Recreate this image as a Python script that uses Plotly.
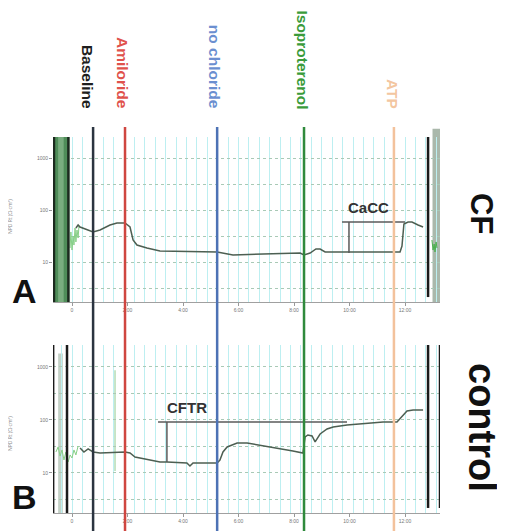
import numpy as np
import plotly.graph_objects as go

# ---------------- data ----------------
event_names = ["Baseline", "Amiloride", "no chloride", "Isoproterenol", "ATP"]
event_times = [0.76, 1.91, 5.23, 8.36, 11.60]          # minutes
event_colors = ["#2b3440", "#cf4640", "#4d72b5", "#2f8a3c", "#f3c29c"]
label_colors = ["#1e1e1e", "#e0524c", "#6b8fd0", "#3a9b3a", "#f3c6a0"]
label_shift = [-5, -2, -2, -2, -1]

# Panel A (CF)
cf_time = [0.14, 0.22, 0.29, 0.50, 0.76, 1.01, 1.37, 1.62, 1.91, 2.09, 2.20, 2.34, 2.70,
           3.17, 4.61, 5.23, 5.80, 6.77, 7.50, 8.22, 8.36, 8.58, 8.79, 8.94, 9.12, 9.66,
           10.74, 11.82, 11.89, 11.96, 12.11, 12.25, 12.47, 12.65]
cf_value = [45.1, 51.5, 47.1, 43.2, 37.8, 41.2, 51.5, 56.2, 56.2, 47.1, 26.5, 21.2, 18.6,
            16.3, 15.6, 15.6, 13.7, 14.3, 14.9, 14.9, 13.7, 14.9, 17.8, 17.8, 15.6, 15.6,
            15.6, 15.6, 20.3, 53.8, 58.8, 58.8, 51.5, 47.1]
cf_noise_time = [-0.07, -0.04, 0.0, 0.04, 0.07, 0.11, 0.14, 0.18, 0.22, 0.25, 0.29]
cf_noise_value = [18.6, 37.8, 17.0, 31.6, 21.2, 45.1, 24.3, 41.2, 29.0, 49.2, 45.1]
cf_end_time = [12.97, 13.01, 13.05, 13.08, 13.12, 13.15]
cf_end_value = [26.5, 17.0, 22.2, 15.6, 24.3, 18.6]

# Panel B (control)
ctrl_time = [0.29, 0.43, 0.58, 0.76, 1.01, 1.55, 1.91, 2.09, 2.27, 2.63, 3.17, 3.42, 3.89,
             4.14, 4.25, 4.36, 4.61, 5.23, 5.33, 5.44, 5.59, 5.95, 6.31, 6.77, 7.39, 7.96,
             8.32, 8.40, 8.50, 8.65, 8.76, 8.94, 9.19, 9.41, 9.91, 10.63, 11.21, 11.71,
             11.89, 12.07, 12.29, 12.65]
ctrl_value = [29.6, 24.9, 28.4, 24.9, 23.8, 24.9, 24.9, 23.8, 20.0, 18.4, 16.1, 16.1, 15.5,
              15.5, 13.6, 15.5, 15.5, 15.5, 17.6, 24.9, 31.0, 36.8, 36.8, 33.7, 29.6, 26.0,
              23.8, 47.8, 52.1, 49.9, 38.5, 54.4, 67.6, 73.8, 80.5, 87.8, 91.7, 91.7,
              114.0, 147.9, 154.5, 154.5]
ctrl_noise_time = [-0.58, -0.50, -0.43, -0.36, -0.29, -0.22, -0.14, -0.07, 0.0, 0.07, 0.14, 0.22]
ctrl_noise_value = [24.9, 31.0, 20.9, 27.2, 17.6, 24.9, 16.1, 21.9, 19.2, 27.2, 21.9, 32.3]

# brackets
cacc_x = [9.73, 12.0, None, 9.98, 9.98]
cacc_y = [58.8, 58.8, None, 58.8, 14.9]
cftr_x = [3.10, 9.91, None, 3.42, 3.42]
cftr_y = [91.7, 91.7, None, 91.7, 16.1]
cacc_label = (10.67, 112.0)
cftr_label = (4.16, 172.0)

x_tick_vals = [0, 2, 4, 6, 8, 10, 12]
x_tick_text = ["0", "2:00", "4:00", "6:00", "8:00", "10:00", "12:00"]
y_tick_vals = [10, 100, 1000]
y_tick_text = ["10", "100", "1000"]
y_grid_vals = [3.16, 10, 31.6, 100, 316, 1000, 3162]

# ---------------- layout helpers (page has an 8px body margin) ----------------
OFF = 8
W, H = 505 - OFF, 531 - OFF


def fx(px):
    return (px - OFF) / W


def fy(py):
    return 1 - (py - OFF) / H


fig = go.Figure()

trace_col = "#4d5f52"
noise_col = "#86cf86"

fig.add_trace(go.Scatter(x=cf_noise_time, y=cf_noise_value, mode="lines",
                         line=dict(color=noise_col, width=1), xaxis="x", yaxis="y"))
fig.add_trace(go.Scatter(x=cf_time, y=cf_value, mode="lines",
                         line=dict(color=trace_col, width=1.5), xaxis="x", yaxis="y"))
fig.add_trace(go.Scatter(x=cf_end_time, y=cf_end_value, mode="lines",
                         line=dict(color="#4caf50", width=1), xaxis="x", yaxis="y"))
fig.add_trace(go.Scatter(x=cacc_x, y=cacc_y, mode="lines",
                         line=dict(color="#5a5a5a", width=1.5), xaxis="x", yaxis="y"))

fig.add_trace(go.Scatter(x=ctrl_noise_time, y=ctrl_noise_value, mode="lines",
                         line=dict(color=noise_col, width=1), xaxis="x2", yaxis="y2"))
fig.add_trace(go.Scatter(x=ctrl_time, y=ctrl_value, mode="lines",
                         line=dict(color=trace_col, width=1.5), xaxis="x2", yaxis="y2"))
fig.add_trace(go.Scatter(x=cftr_x, y=cftr_y, mode="lines",
                         line=dict(color="#5a5a5a", width=1.5), xaxis="x2", yaxis="y2"))

xdom = [fx(53), fx(440)]
xrange = [-0.685, 13.26]
common_x = dict(domain=xdom, range=xrange, showgrid=False, zeroline=False,
                showline=True, linecolor="#a0a0a0", linewidth=1, automargin=False,
                tickmode="array", tickvals=x_tick_vals, ticktext=x_tick_text,
                ticks="outside", ticklen=3, tickcolor="#999",
                tickfont=dict(size=5, color="#777", family="Liberation Sans"),
                minor=dict(dtick=0.375, tick0=0, showgrid=True, gridcolor="#bdeff1",
                           gridwidth=1, ticks=""))
common_y = dict(type="log", showgrid=False, zeroline=False, showline=False, automargin=False,
                tickmode="array", tickvals=y_tick_vals, ticktext=y_tick_text,
                ticks="outside", ticklen=3, tickcolor="#999",
                tickfont=dict(size=5, color="#777", family="Liberation Sans"),
                minor=dict(tickmode="array", tickvals=y_grid_vals, showgrid=True,
                           gridcolor="#a9c9b6", griddash="dot", gridwidth=1, ticks=""))

fig.update_layout(
    width=W, height=H, margin=dict(l=0, r=0, t=0, b=0, autoexpand=False),
    paper_bgcolor="white", plot_bgcolor="white", showlegend=False,
    xaxis=dict(anchor="y", **common_x),
    xaxis2=dict(anchor="y2", **common_x),
    yaxis=dict(anchor="x", domain=[fy(302), fy(137)], range=[0.231, 3.404], **common_y),
    yaxis2=dict(anchor="x2", domain=[fy(513), fy(345)], range=[0.245, 3.415], **common_y),
)

shapes = []
# side bands panel A
shapes += [
    dict(type="rect", xref="x", yref="y domain", x0=-0.79, x1=-0.685, y0=0, y1=1,
         fillcolor="#b7c8b9", line_width=0, layer="above"),
    dict(type="rect", xref="x", yref="y domain", x0=-0.685, x1=-0.10, y0=0, y1=1,
         fillcolor="#4f8d59", line_width=0, layer="above"),
    dict(type="rect", xref="x", yref="y domain", x0=-0.50, x1=-0.30, y0=0, y1=1,
         fillcolor="#79ad7f", line_width=0, layer="above"),
    dict(type="line", xref="x", yref="y domain", x0=-0.65, x1=-0.65, y0=0, y1=1,
         line=dict(color="#1c2a1f", width=2.5), layer="above"),
    dict(type="line", xref="x", yref="y domain", x0=-0.13, x1=-0.13, y0=0, y1=1,
         line=dict(color="#1c2a1f", width=2.5), layer="above"),
    dict(type="line", xref="x", yref="y domain", x0=12.83, x1=12.83, y0=0.03, y1=1,
         line=dict(color="#1a1a1a", width=2.5), layer="above"),
    dict(type="rect", xref="x", yref="y domain", x0=12.99, x1=13.26, y0=0, y1=1.05,
         fillcolor="#aab8ab", line_width=0, layer="below"),
]
# side bands panel B
shapes += [
    dict(type="rect", xref="x2", yref="y2 domain", x0=-1.05, x1=-0.88, y0=0, y1=0.9,
         fillcolor="#cfd3d0", line_width=0, layer="above"),
    dict(type="line", xref="x2", yref="y2 domain", x0=-0.68, x1=-0.68, y0=0, y1=1,
         line=dict(color="#1a1a1a", width=2.5), layer="above"),
    dict(type="rect", xref="x2", yref="y2 domain", x0=-0.50, x1=-0.33, y0=0, y1=0.95,
         fillcolor="#c5d2c7", line_width=0, layer="below"),
    dict(type="line", xref="x2", yref="y2 domain", x0=-0.18, x1=-0.18, y0=0, y1=1,
         line=dict(color="#1a1a1a", width=2.5), layer="above"),
    dict(type="line", xref="x2", yref="y2 domain", x0=1.55, x1=1.55, y0=0.25, y1=0.85,
         line=dict(color="#b5dcb5", width=1.5), layer="below"),
    dict(type="line", xref="x2", yref="y2 domain", x0=12.83, x1=12.83, y0=0.03, y1=1,
         line=dict(color="#1a1a1a", width=2.5), layer="above"),
    dict(type="line", xref="x2", yref="y2 domain", x0=13.26, x1=13.26, y0=0.03, y1=1,
         line=dict(color="#1a1a1a", width=2.5), layer="above"),
]
# event lines spanning both panels
for t, c in zip(event_times, event_colors):
    shapes.append(dict(type="line", xref="x", yref="paper", x0=t, x1=t,
                       y0=0, y1=fy(127), line=dict(color=c, width=2.5), layer="above"))
fig.update_layout(shapes=shapes)

bold = dict(family="Liberation Sans", weight="bold")
ann = []
for name, t, c, s in zip(event_names, event_times, label_colors, label_shift):
    ann.append(dict(text=name, x=t, xref="x", y=fy(111), yref="paper",
                    xanchor="center", yanchor="bottom", textangle=90, xshift=s,
                    showarrow=False, font=dict(size=15.5, color=c, **bold)))
ann += [
    dict(text="CaCC", x=cacc_label[0], y=np.log10(cacc_label[1]), xref="x", yref="y",
         xanchor="center", yanchor="middle",
         showarrow=False, font=dict(size=15, color="#333", **bold)),
    dict(text="CFTR", x=cftr_label[0], y=np.log10(cftr_label[1]), xref="x2", yref="y2",
         xanchor="center", yanchor="middle",
         showarrow=False, font=dict(size=15, color="#333", **bold)),
    dict(text="A", x=fx(24), y=fy(291), xref="paper", yref="paper", showarrow=False,
         xanchor="center", yanchor="middle", font=dict(size=34, color="#111", **bold)),
    dict(text="B", x=fx(24), y=fy(497), xref="paper", yref="paper", showarrow=False,
         xanchor="center", yanchor="middle", font=dict(size=34, color="#111", **bold)),
    dict(text="CF", x=fx(482), y=fy(213), xref="paper", yref="paper", showarrow=False,
         xanchor="center", yanchor="middle",
         textangle=90, font=dict(size=31, color="#111", **bold)),
    dict(text="control", x=fx(482), y=fy(427), xref="paper", yref="paper", showarrow=False,
         xanchor="center", yanchor="middle",
         textangle=90, font=dict(size=38, color="#111", **bold)),
    dict(text="NPD Rt (Ω·cm²)", x=fx(10), y=fy(217), xref="paper", yref="paper",
         xanchor="center", yanchor="middle",
         showarrow=False, textangle=-90, font=dict(size=5, color="#888")),
    dict(text="NPD Rt (Ω·cm²)", x=fx(10), y=fy(434), xref="paper", yref="paper",
         xanchor="center", yanchor="middle",
         showarrow=False, textangle=-90, font=dict(size=5, color="#888")),
]
fig.update_layout(annotations=ann)

fig.write_html("out.html")
